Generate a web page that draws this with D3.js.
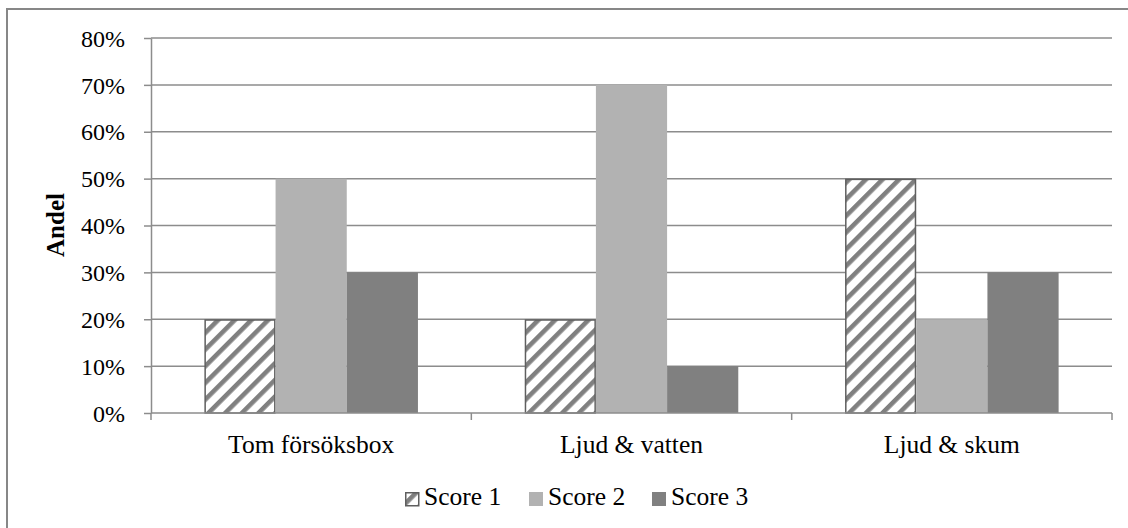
<!DOCTYPE html>
<html>
<head>
<meta charset="utf-8">
<script src="https://cdn.jsdelivr.net/npm/d3@7"></script>
<style>
  html, body { margin: 0; padding: 0; background: #fff; }
  svg { display: block; }
  text { font-family: "Liberation Serif", "Times New Roman", serif; fill: #000; }
</style>
</head>
<body>
<svg id="chart" width="1128" height="528"></svg>
<script>
// Share of each score per test condition
const categories = ["Tom försöksbox", "Ljud & vatten", "Ljud & skum"];
const seriesNames = ["Score 1", "Score 2", "Score 3"];
const score1 = [0.20, 0.20, 0.50];
const score2 = [0.50, 0.70, 0.20];
const score3 = [0.30, 0.10, 0.30];
const yTicks = [0, 0.1, 0.2, 0.3, 0.4, 0.5, 0.6, 0.7, 0.8];
const yTitle = "Andel";

const seriesValues = [score1, score2, score3];

const svg = d3.select("#chart");
const W = 1128, H = 528;
const plot = { left: 151, right: 1112, top: 38, bottom: 413 };
const gridColor = "#8c8c8c";

// Outer chart frame (only top and left edges fall inside the view)
svg.append("rect")
  .attr("x", 7).attr("y", 9)
  .attr("width", W + 20).attr("height", H + 20)
  .attr("fill", "#fff")
  .attr("stroke", "#878787")
  .attr("stroke-width", 2);

// Diagonal hatch for Score 1
const defs = svg.append("defs");
const hatch = defs.append("pattern")
  .attr("id", "hatch")
  .attr("patternUnits", "userSpaceOnUse")
  .attr("width", 11.8).attr("height", 11.8)
  .attr("patternTransform", "rotate(45)");
hatch.append("rect").attr("width", 11.8).attr("height", 11.8).attr("fill", "#fff");
hatch.append("rect").attr("x", 0).attr("y", 0).attr("width", 4.6).attr("height", 11.8).attr("fill", "#808080");

const fills = ["url(#hatch)", "#b2b2b2", "#808080"];
const strokes = ["#5f5f5f", "none", "none"];

const y = d3.scaleLinear().domain([0, 0.8]).range([plot.bottom, plot.top]);
const x0 = d3.scaleBand().domain(categories).range([plot.left, plot.right]).padding(0);
const x1 = d3.scaleBand().domain(seriesNames).range([0, x0.bandwidth()])
  .paddingInner(0).paddingOuter(0.75);

// Horizontal gridlines
svg.append("g")
  .selectAll("line")
  .data(yTicks.filter(d => d > 0))
  .join("line")
  .attr("x1", plot.left).attr("x2", plot.right)
  .attr("y1", d => y(d)).attr("y2", d => y(d))
  .attr("stroke", gridColor).attr("stroke-width", 1.5);

// Bars
const groups = svg.append("g")
  .selectAll("g")
  .data(categories)
  .join("g")
  .attr("transform", d => `translate(${x0(d)},0)`);

groups.selectAll("rect")
  .data((c, i) => seriesNames.map((s, j) => ({ s, j, v: seriesValues[j][i] })))
  .join("rect")
  .attr("x", d => x1(d.s) + (d.j === 0 ? 0.75 : 0))
  .attr("y", d => y(d.v) + (d.j === 0 ? 0.75 : 0))
  .attr("width", d => x1.bandwidth() - (d.j === 0 ? 1.5 : 0))
  .attr("height", d => y(0) - y(d.v) - (d.j === 0 ? 0.75 : 0))
  .attr("fill", d => fills[d.j])
  .attr("stroke", d => strokes[d.j])
  .attr("stroke-width", 1.5);

// Y axis
const yAxis = d3.axisLeft(y)
  .tickValues(yTicks)
  .tickFormat(d3.format(".0%"))
  .tickSizeInner(7).tickSizeOuter(0).tickPadding(19);
const gy = svg.append("g").attr("transform", `translate(${plot.left},0)`).call(yAxis);
gy.select(".domain").attr("stroke", gridColor).attr("stroke-width", 1.5);
gy.selectAll(".tick line").attr("stroke", gridColor).attr("stroke-width", 1.5);
gy.selectAll(".tick text")
  .attr("font-family", "Liberation Serif, Times New Roman, serif")
  .attr("font-size", 24).attr("fill", "#000").attr("dy", "0.34em");

// X axis baseline with boundary ticks
const boundaries = categories.map(c => x0(c)).concat([plot.right]);
const gx = svg.append("g");
gx.append("line")
  .attr("x1", plot.left).attr("x2", plot.right)
  .attr("y1", y(0)).attr("y2", y(0))
  .attr("stroke", gridColor).attr("stroke-width", 1.5);
gx.selectAll("line.b")
  .data(boundaries)
  .join("line")
  .attr("class", "b")
  .attr("x1", d => d).attr("x2", d => d)
  .attr("y1", y(0)).attr("y2", y(0) + 7)
  .attr("stroke", gridColor).attr("stroke-width", 1.5);
gx.selectAll("text")
  .data(categories)
  .join("text")
  .attr("x", d => x0(d) + x0.bandwidth() / 2)
  .attr("y", 453)
  .attr("text-anchor", "middle")
  .attr("font-size", 25.5)
  .text(d => d);

// Y axis title
svg.append("text")
  .attr("transform", `translate(64,225) rotate(-90)`)
  .attr("text-anchor", "middle")
  .attr("font-size", 25)
  .attr("font-weight", "bold")
  .text(yTitle);

// Legend
const legendX = [405, 529, 652];
const legend = svg.append("g")
  .selectAll("g")
  .data(seriesNames)
  .join("g")
  .attr("transform", (d, i) => `translate(${legendX[i]},0)`);
legend.append("rect")
  .attr("x", (d, i) => i === 0 ? 0.75 : 0)
  .attr("y", (d, i) => i === 0 ? 492.75 : 492)
  .attr("width", (d, i) => i === 0 ? 13 : 14)
  .attr("height", (d, i) => i === 0 ? 13 : 14)
  .attr("fill", (d, i) => fills[i])
  .attr("stroke", (d, i) => strokes[i])
  .attr("stroke-width", 1.5);
legend.append("text")
  .attr("x", 19)
  .attr("y", 505)
  .attr("font-size", 25.5)
  .text(d => d);
</script>
</body>
</html>
